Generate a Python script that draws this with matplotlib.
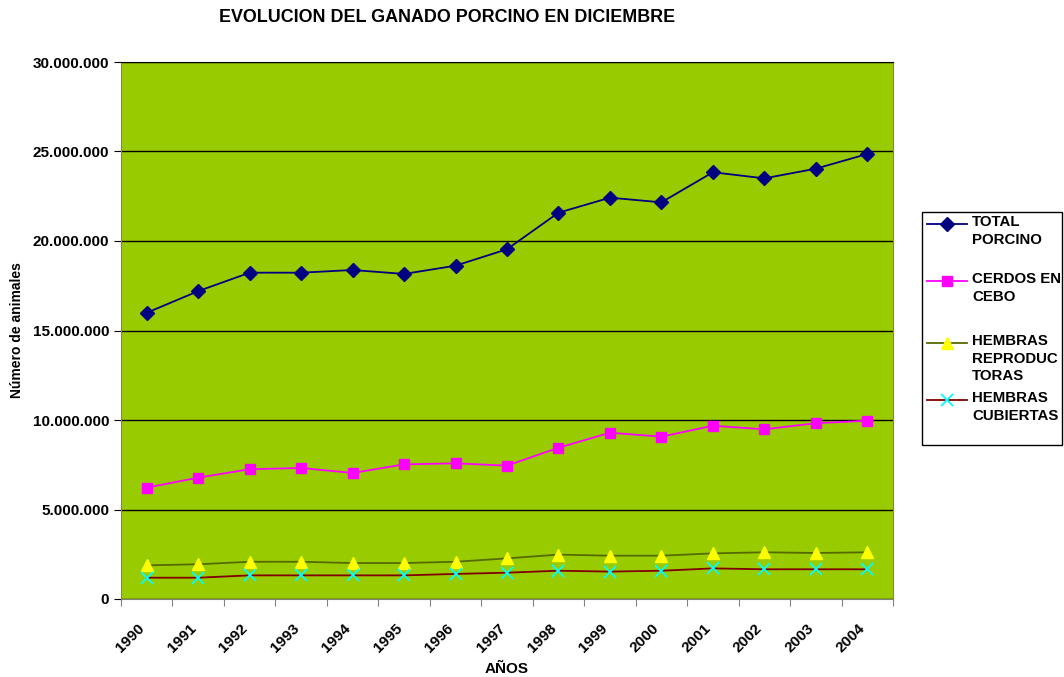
import matplotlib
matplotlib.use("Agg")
import matplotlib.pyplot as plt
from matplotlib.lines import Line2D
from matplotlib.patches import Rectangle
from matplotlib.ticker import FuncFormatter, FixedLocator

plt.rcParams["font.family"] = ["Liberation Sans", "DejaVu Sans"]
plt.rcParams["font.weight"] = "bold"

# --- data (animals, December census, millions) ---
years = [str(y) for y in range(1990, 2005)]
total_porcino = [15.99, 17.20, 18.23, 18.23, 18.38, 18.16, 18.62, 19.54,
                 21.58, 22.42, 22.16, 23.84, 23.50, 24.04, 24.86]
cerdos_cebo = [6.22, 6.78, 7.25, 7.32, 7.04, 7.52, 7.58, 7.45,
               8.45, 9.29, 9.07, 9.68, 9.48, 9.82, 9.96]
hembras_reproductoras = [1.88, 1.94, 2.08, 2.08, 2.01, 2.01, 2.08, 2.27,
                         2.48, 2.42, 2.42, 2.55, 2.61, 2.57, 2.61]
hembras_cubiertas = [1.19, 1.19, 1.32, 1.32, 1.32, 1.32, 1.40, 1.47,
                     1.58, 1.53, 1.58, 1.71, 1.66, 1.66, 1.66]
series_names = ["TOTAL\nPORCINO", "CERDOS EN\nCEBO",
                "HEMBRAS\nREPRODUC\nTORAS", "HEMBRAS\nCUBIERTAS"]

scale = 1_000_000
series = [total_porcino, cerdos_cebo, hembras_reproductoras, hembras_cubiertas]
styles = [
    dict(color="#000080", marker="D", mfc="#000080", mec="#000080", ms=7.5, mew=1),
    dict(color="#FF00FF", marker="s", mfc="#FF00FF", mec="#FF00FF", ms=7.5, mew=1),
    dict(color="#556B00", marker="^", mfc="#FFFF00", mec="#FFFF00", ms=9, mew=1),
    dict(color="#800000", marker="x", mfc="#00FFFF", mec="#00FFFF", ms=8, mew=1.3),
]

W, H = 1064, 677
fig = plt.figure(figsize=(W / 100, H / 100), dpi=100)
ax = fig.add_axes([121 / W, 1 - 599 / H, (893 - 121) / W, (599 - 62) / H])
ax.set_facecolor("#99CC00")

x = list(range(len(years)))
for vals, st in zip(series, styles):
    ax.plot(x, [v * scale for v in vals], lw=1.3, zorder=3, **st)

ax.set_xlim(-0.5, len(years) - 0.5)
ax.set_ylim(0, 30 * scale)
ax.set_yticks([i * 5 * scale for i in range(7)])
ax.yaxis.set_major_formatter(FuncFormatter(lambda v, p: f"{int(v):,}".replace(",", ".")))
ax.grid(axis="y", color="black", lw=1, zorder=1)
ax.set_axisbelow(True)

# category boundaries get ticks; rotated labels end a little left of the centre
ax.xaxis.set_major_locator(FixedLocator([i - 0.5 for i in range(len(years) + 1)]))
ax.xaxis.set_minor_locator(FixedLocator([i - 0.18 for i in x]))
ax.set_xticklabels([])
ax.set_xticklabels(years, minor=True, rotation=45, ha="right", va="top",
                   rotation_mode="anchor", fontsize=11, fontweight="bold")
ax.tick_params(axis="x", which="minor", length=0, pad=16)
ax.tick_params(axis="x", which="major", length=5, color="#808080")
ax.tick_params(axis="y", length=5, labelsize=11, color="black")
for lbl in ax.get_yticklabels():
    lbl.set_fontweight("bold")

for s in ["left", "right", "bottom"]:
    ax.spines[s].set_color("#808080")
ax.spines["top"].set_color("black")

ax.set_ylabel("Número de animales", fontsize=10, fontweight="bold", labelpad=6)
ax.set_xlabel("AÑOS", fontsize=11, fontweight="bold", labelpad=5)
fig.text(447 / W, 1 - 18 / H, "EVOLUCION DEL GANADO PORCINO EN DICIEMBRE",
         ha="center", va="center", fontsize=12.9, fontweight="bold")

# manual legend, Excel style: handle aligned with first text line
fig.patches.append(Rectangle((922 / W, 1 - 445 / H), (1062 - 922) / W, (445 - 212) / H,
                             transform=fig.transFigure, facecolor="white",
                             edgecolor="black", lw=1))
legend_top = [224, 281, 343, 400]
for name, st, ty in zip(series_names, styles, legend_top):
    fig.lines.append(Line2D([927 / W, 947 / W, 967 / W], [1 - ty / H] * 3,
                            transform=fig.transFigure, lw=1.3, markevery=[1], **st))
    fig.text(972 / W, 1 - (ty - 9) / H, name, ha="left", va="top", fontsize=10.8,
             fontweight="bold", linespacing=1.32)

fig.savefig("out.png", dpi=100)
